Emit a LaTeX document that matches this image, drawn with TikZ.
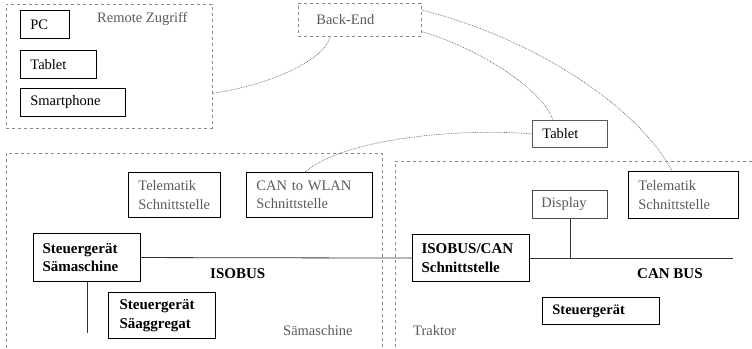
\documentclass[tikz,border=0pt]{standalone}
\usepackage{fontspec}
\setmainfont{Liberation Serif}
\usetikzlibrary{calc}
\definecolor{regiongray}{HTML}{8A8A8A}
\definecolor{softtext}{HTML}{5A5A5A}
\definecolor{linkgray}{HTML}{606060}
\tikzset{
  unit/.style={draw=black, line width=0.8pt, inner xsep=10pt, inner ysep=0pt,
    align=left, anchor=north west, font=\fontsize{14.5}{18.5}\selectfont},
  boldunit/.style={unit, line width=1.1pt, font=\bfseries\fontsize{15}{18.5}\selectfont},
  region/.style={draw=regiongray, dashed, line width=0.7pt},
  regionlabel/.style={anchor=base west, text=softtext, inner sep=0pt,
    font=\fontsize{14.5}{17}\selectfont},
  buslabel/.style={anchor=base west, inner sep=0pt, font=\bfseries\fontsize{15}{17}\selectfont},
  bus/.style={draw=black!80, line width=0.8pt},
  link/.style={draw=linkgray, dash pattern=on 0.8pt off 0.9pt, line width=0.6pt},
}
\begin{document}
\begin{tikzpicture}[x=1pt, y=-1pt]
\useasboundingbox (0,0) rectangle (752,348);

% remote access group
\node[region, anchor=north west, minimum width=206pt, minimum height=124pt, inner sep=0pt] (remote) at (6,4) {};
\node[regionlabel] (remotelbl) at (97,23) {Remote Zugriff};
\node[unit, minimum height=28pt, text width=29pt] (pc) at (20,10) {PC};
\node[unit, minimum height=28pt, text width=56pt] (tabletA) at (20,50) {Tablet};
\node[unit, minimum height=28pt, text width=85pt] (phone) at (20,88) {Smartphone};

% back end and mobile tablet
\node[unit, region, text=softtext, minimum height=33pt, text width=87pt, inner xsep=18pt] (backend) at (298,3) {Back-End};
\node[unit, draw=black!65, minimum height=27pt, text width=55pt] (tabletB) at (532,120) {Tablet};

% seeding machine
\draw[region] (6,348) -- (6,153) -- (382,153) -- (382,348);
\node[regionlabel] (saelbl) at (283,335) {Sämaschine};
\node[unit, text=softtext, minimum height=45pt, text width=72pt] (telA) at (128,172) {Telematik\\Schnittstelle};
\node[unit, text=softtext, minimum height=45pt, text width=106pt] (wlan) at (246,172) {CAN to WLAN\\Schnittstelle};
\node[boldunit, minimum height=48pt, text width=89pt, inner xsep=9pt] (steuS) at (33,233) {Steuergerät\\Sämaschine};
\node[boldunit, minimum height=46pt, text width=85pt, inner xsep=11pt] (steuA) at (108,292) {Steuergerät\\Säaggregat};
\node[buslabel] (isolbl) at (210,278) {ISOBUS};
\coordinate (sEnd) at (steuS.south |- 0,333);

% tractor
\draw[region] (752,161) -- (395,161) -- (395,348);
\node[regionlabel] (trlbl) at (413,335) {Traktor};
\node[boldunit, minimum height=47pt, text width=99pt, inner xsep=9pt] (iso) at (412,234) {ISOBUS/CAN\\Schnittstelle};
\node[unit, draw=black!70, text=softtext, minimum height=28pt, text width=57pt, inner xsep=9pt] (display) at (532,190) {Display};
\node[unit, text=softtext, minimum height=47pt, text width=90pt] (telB) at (628,171) {Telematik\\Schnittstelle};
\node[unit, font=\bfseries\fontsize{14.5}{17}\selectfont, minimum height=27pt, text width=97pt] (steuT) at (542,297) {Steuergerät};
\node[buslabel] (canlbl) at (637,278) {CAN BUS};
\coordinate (canEnd) at (733,0 |- iso.east);
\coordinate (tap) at (display.south |- iso.east);

% buses
\draw[bus] (steuS.east) -- (iso.west);
\draw[bus] (iso.east) -- (canEnd);
\draw[bus] (display.south) -- (tap);
\draw[bus] (steuS.south) -- (sEnd);

% wireless links
\draw[link] ($(remote.east)+(0,27)$) .. controls (270,85) and (325,60) .. ($(backend.south west)+(32,0)$);
\draw[link] ($(backend.south east)+(0,-5)$) .. controls (470,45) and (540,85) .. ($(tabletB.north west)+(21,0)$);
\draw[link] ($(backend.north east)+(0,7)$) .. controls (540,40) and (640,110) .. ($(telB.north west)+(44,0)$);
\draw[link] (tabletB.west) .. controls (460,128) and (345,138) .. ($(wlan.north west)+(59,0)$);
\end{tikzpicture}
\end{document}
